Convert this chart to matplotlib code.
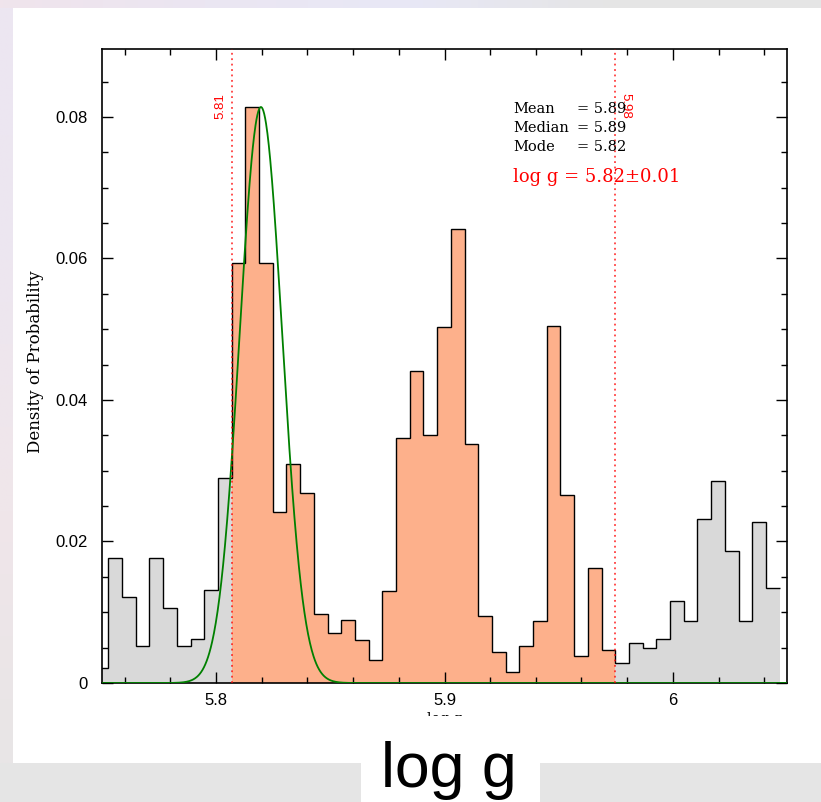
"""
Posterior of log g: histogram with the retained interval shaded,
gaussian fit on the main peak and summary statistics.
"""
import numpy as np
import matplotlib
matplotlib.use("Agg")
import matplotlib.pyplot as plt
from matplotlib.colors import LinearSegmentedColormap
from matplotlib.patches import Rectangle
from matplotlib.ticker import MultipleLocator, FormatStrFormatter

# histogram : 50 bins of width 0.006 starting at BIN_START
BIN_START = 5.7468
BIN_WIDTH = 0.006
density = [0.0021, 0.0176, 0.0121, 0.0052, 0.0176, 0.0106, 0.0052, 0.0062, 0.0132, 0.0290,
           0.0593, 0.0814, 0.0594, 0.0241, 0.0309, 0.0268, 0.0097, 0.0071, 0.0089, 0.0061,
           0.0033, 0.0130, 0.0346, 0.0441, 0.0350, 0.0503, 0.0642, 0.0338, 0.0094, 0.0044,
           0.0015, 0.0052, 0.0087, 0.0504, 0.0266, 0.0038, 0.0163, 0.0046, 0.0028, 0.0057,
           0.0050, 0.0062, 0.0116, 0.0087, 0.0232, 0.0285, 0.0186, 0.0087, 0.0228, 0.0134]

# retained interval
interval = [5.8068, 5.9748]
interval_labels = ["5.81", "5.98"]

# gaussian fit of the main peak
fit_mu = 5.8196
fit_sigma = 0.0093
fit_peak = 0.0814

stat_names = ["Mean", "Median", "Mode"]
stat_values = ["5.89", "5.89", "5.82"]
result_text = "log g = 5.82\u00b10.01"

W, H = 821, 802
ORANGE = "#fdb08b"
GREY = "#d9d9d9"

fig = plt.figure(figsize=(W / 100, H / 100), dpi=100)
fig.patch.set_facecolor("white")

# --- window frame around the plot (screenshot look)
bg = fig.add_axes([0, 0, 1, 1], zorder=-10)
bg.set_xlim(0, W)
bg.set_ylim(H, 0)
bg.axis("off")
top_cmap = LinearSegmentedColormap.from_list(
    "top", ["#f0e4ec", "#ebe6f2", "#e8e8f6", "#e5e5e5", "#e5e5e5"])
bg.imshow(np.linspace(0, 1, 256)[None, :], cmap=top_cmap, aspect="auto",
          extent=(0, W, 8, 0))
left_cmap = LinearSegmentedColormap.from_list(
    "left", ["#ece6f2", "#ede6f0", "#f0e6ea", "#e8e5e6"])
bg.imshow(np.linspace(0, 1, 256)[:, None], cmap=left_cmap, aspect="auto",
          extent=(0, 13, 763, 8))
bg.add_patch(Rectangle((0, 763), W, H - 763, color="#e5e5e5", lw=0))

# --- main axes
ax = fig.add_axes([102 / W, 1 - 683 / H, 685 / W, 634 / H])
edges = BIN_START + BIN_WIDTH * np.arange(len(density) + 1)
centers = 0.5 * (edges[:-1] + edges[1:])
colors = [ORANGE if interval[0] < c < interval[1] else GREY for c in centers]

ax.bar(edges[:-1], density, width=BIN_WIDTH, align="edge", color=colors,
       linewidth=0, zorder=1)
ax.stairs(density, edges, color="black", lw=1.0, baseline=None, zorder=2)

xs = np.linspace(5.75, 6.05, 1500)
ax.plot(xs, fit_peak * np.exp(-0.5 * ((xs - fit_mu) / fit_sigma) ** 2),
        color="#008000", lw=1.3, zorder=3)

for xv in interval:
    ax.axvline(xv, color="red", ls=(0, (1, 2)), lw=1.3, alpha=0.75, zorder=4)
ax.text(interval[0] - 0.0048, 0.0815, interval_labels[0], rotation=90,
        color="red", ha="center", va="center", fontsize=9.5, family="Liberation Sans")
ax.text(interval[1] + 0.0046, 0.0816, interval_labels[1], rotation=270,
        color="red", ha="center", va="center", fontsize=9.5, family="Liberation Sans")

ax.set_xlim(5.75, 6.05)
ax.set_ylim(0, 0.0896)
ax.xaxis.set_major_locator(MultipleLocator(0.1))
ax.xaxis.set_minor_locator(MultipleLocator(0.02))
ax.yaxis.set_major_locator(MultipleLocator(0.02))
ax.yaxis.set_minor_locator(MultipleLocator(0.005))
ax.xaxis.set_major_formatter(FormatStrFormatter("%g"))
ax.yaxis.set_major_formatter(FormatStrFormatter("%g"))
ax.tick_params(which="both", direction="in", top=True, right=True, width=1.0)
ax.tick_params(which="major", length=8)
ax.tick_params(which="minor", length=4.5)
ax.tick_params(axis="y", pad=10)
ax.tick_params(axis="x", pad=7)
for lab in ax.get_xticklabels() + ax.get_yticklabels():
    lab.set_fontfamily("Liberation Sans")
    lab.set_fontsize(12)
for sp in ax.spines.values():
    sp.set_linewidth(1.2)

# summary statistics
for i, (name, val) in enumerate(zip(stat_names, stat_values)):
    y = 0.905 - 0.030 * i
    ax.text(0.600, y, name, transform=ax.transAxes, fontsize=10.5,
            family="DejaVu Serif", va="center", zorder=5)
    ax.text(0.693, y, "= " + val, transform=ax.transAxes, fontsize=10.5,
            family="DejaVu Serif", va="center", zorder=5)
ax.text(0.600, 0.798, result_text, transform=ax.transAxes, fontsize=13,
        family="DejaVu Serif", color="red", va="center", zorder=5)

# axis titles
fig.text(35 / W, 1 - 362 / H, "Density of Probability", rotation=90,
         ha="center", va="center", fontsize=12, family="DejaVu Serif")
fig.text(445 / W, 1 - 712 / H, "log g", ha="center", va="top",
         fontsize=10, family="DejaVu Serif", zorder=1)
fig.add_artist(Rectangle((361 / W, 0), 179 / W, (H - 715.5) / H,
                         transform=fig.transFigure, color="white", lw=0, zorder=2))
fig.text(449 / W, 1 - 787 / H, "log g", ha="center", va="baseline",
         fontsize=45, family="Liberation Sans", zorder=3)

fig.savefig("out.png", dpi=100)
